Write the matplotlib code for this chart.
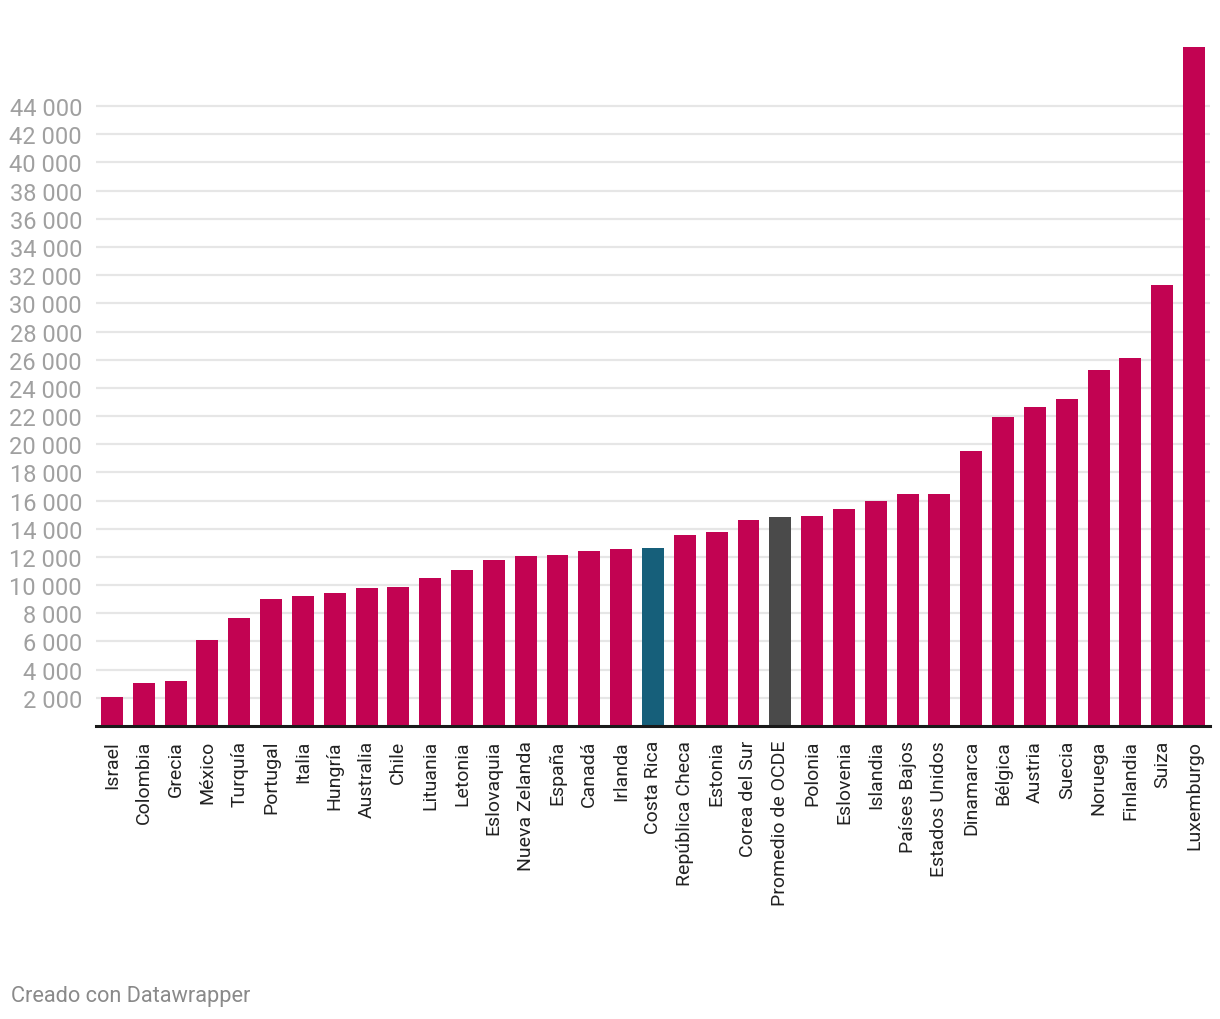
import numpy as np
import matplotlib.pyplot as plt
from matplotlib.ticker import FuncFormatter

# Datos
paises = ["Israel", "Colombia", "Grecia", "México", "Turquía", "Portugal", "Italia",
          "Hungría", "Australia", "Chile", "Lituania", "Letonia", "Eslovaquia",
          "Nueva Zelanda", "España", "Canadá", "Irlanda", "Costa Rica",
          "República Checa", "Estonia", "Corea del Sur", "Promedio de OCDE",
          "Polonia", "Eslovenia", "Islandia", "Países Bajos", "Estados Unidos",
          "Dinamarca", "Bélgica", "Austria", "Suecia", "Noruega", "Finlandia",
          "Suiza", "Luxemburgo"]
valores = [2050, 3050, 3200, 6100, 7650, 9000, 9230, 9440, 9790, 9870, 10500,
           11070, 11780, 12070, 12140, 12420, 12560, 12640, 13560, 13770, 14620,
           14830, 14900, 15400, 15970, 16470, 16470, 19520, 21930, 22640, 23210,
           25270, 26120, 31300, 48200]
resaltados = {"Costa Rica": "#165f7a", "Promedio de OCDE": "#4a4a4a"}
color_base = "#c20352"
yticks = list(range(2000, 46000, 2000))

plt.rcParams['font.family'] = ['Roboto', 'DejaVu Sans']

fig = plt.figure(figsize=(12.2, 10.2), dpi=100)
ymax = 48800
px_per_unit = 0.014088
ax_h = ymax * px_per_unit / 1020
ax = fig.add_axes([96 / 1220, 293 / 1020, 1114 / 1220, ax_h])

x = np.arange(len(paises))
colores = [resaltados.get(p, color_base) for p in paises]
ax.bar(x, valores, width=0.69, color=colores, zorder=2)

ax.set_xlim(-0.5, len(paises) - 0.5)
ax.set_ylim(0, ymax)
ax.set_yticks(yticks)
ax.yaxis.set_major_formatter(FuncFormatter(lambda v, p: f"{int(v):,}".replace(",", " ")))
ax.grid(axis='y', color='#e6e6e6', linewidth=1.6, zorder=0)
ax.tick_params(axis='y', length=0, pad=10, labelsize=17, labelcolor='#a0a0a0')

ax.set_xticks(x)
ax.set_xticklabels(paises, rotation=90, fontsize=14, color='#222222')
ax.tick_params(axis='x', length=0, pad=10)

for s in ['top', 'right', 'left']:
    ax.spines[s].set_visible(False)
ax.spines['bottom'].set_color('#1a1a1a')
ax.spines['bottom'].set_linewidth(2.2)
ax.spines['bottom'].set_zorder(3)

fig.text(11 / 1220, 1 - 997 / 1020, "Creado con Datawrapper", fontsize=15.7,
         color='#8a8a8a', va='center', ha='left')

fig.savefig("out.png", dpi=100)
